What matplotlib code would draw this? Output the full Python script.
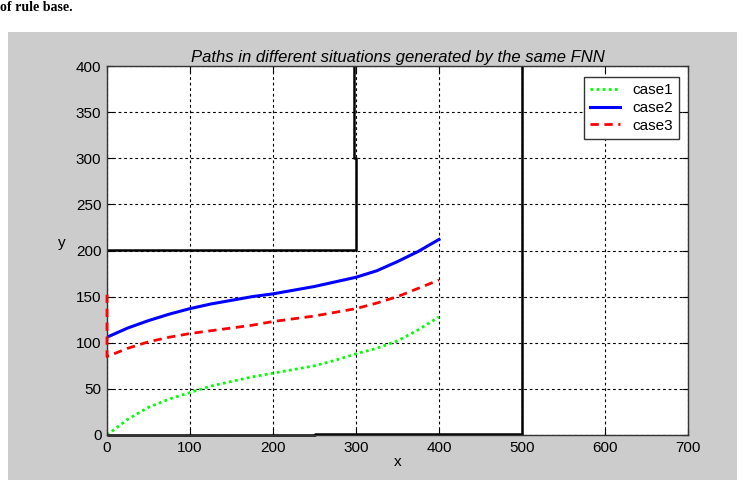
import matplotlib.pyplot as plt
from matplotlib.patches import Rectangle

plt.rcParams['font.family'] = ['Liberation Sans Narrow', 'Liberation Sans', 'DejaVu Sans']

# path samples for each case
x_pts = [0, 25, 50, 75, 100, 125, 150, 175, 200, 225, 250, 275, 300, 325, 350, 375, 400]
case1_y = [0, 17, 30, 39, 46, 53, 58, 63, 67, 71, 75, 81, 88, 94, 102, 114, 128]
case2_y = [106, 116, 124, 131, 137, 142, 146, 150, 153, 157, 161, 166, 171, 178, 188, 199, 212]
case3_x = [0] + x_pts
case3_y = [152, 85, 94, 101, 106, 110, 113, 116, 119, 123, 126, 129, 133, 137, 143, 150, 159, 168]

# obstacle / wall outlines
wall_top_x = [0, 300, 300, 298, 298]
wall_top_y = [201, 201, 300, 300, 400]
wall_right_x = [500, 500]
wall_right_y = [0, 400]
floor_x = [0, 250, 250, 500]
floor_y = [-0.5, -0.5, 0.8, 0.8]

x_ticks = [0, 100, 200, 300, 400, 500, 600, 700]
y_ticks = [0, 50, 100, 150, 200, 250, 300, 350, 400]

fig = plt.figure(figsize=(7.45, 4.8), dpi=100)
fig.patch.set_facecolor('white')
panel = Rectangle((8 / 745, 0), (737 - 8) / 745, (480 - 32) / 480,
                  transform=fig.transFigure, facecolor='#cccccc',
                  edgecolor='none', zorder=-10)
fig.add_artist(panel)
fig.text(0.0, 1.0 - 1 / 480, 'of rule base.', family='Liberation Serif',
         fontweight='bold', fontsize=10, ha='left', va='top')

ax = fig.add_axes([107 / 745, 45 / 480, (688 - 107) / 745, (414 - 45) / 480])
ax.set_facecolor('white')

ax.plot(x_pts, case1_y, color='#00ff00', linestyle=(0, (1, 1.2)), linewidth=2, label='case1')
ax.plot(x_pts, case2_y, color='#0000ff', linestyle='-', linewidth=2.2, label='case2')
ax.plot(case3_x, case3_y, color='#ff0000', linestyle=(0, (3, 2)), linewidth=2,
        label='case3', zorder=3, clip_on=False)

for wx, wy in [(wall_top_x, wall_top_y), (wall_right_x, wall_right_y), (floor_x, floor_y)]:
    ax.plot(wx, wy, color='black', linewidth=1.8, solid_capstyle='butt', clip_on=False)

ax.set_xlim(0, 700)
ax.set_ylim(0, 400)
ax.set_xticks(x_ticks)
ax.set_yticks(y_ticks)
ax.tick_params(direction='in', length=4, top=True, right=True, labelsize=11, pad=4)
ax.grid(True, color='black', linestyle=(0, (2.5, 2.5)), linewidth=0.8)
for sp in ax.spines.values():
    sp.set_linewidth(1.0)
    sp.set_color('#333333')
    sp.set_zorder(2)

ax.set_title('Paths in different situations generated by the same FNN',
             fontstyle='italic', fontsize=12, pad=3)
ax.set_xlabel('x', fontsize=11, labelpad=0)
ax.set_ylabel('y', fontsize=11, rotation=0)
ax.yaxis.set_label_coords(-0.078, 0.50)

leg = ax.legend(loc='upper right', bbox_to_anchor=(0.985, 0.97), fancybox=False,
                framealpha=1, edgecolor='#333333', fontsize=11, handlelength=2.0,
                borderpad=0.4, labelspacing=0.25, handletextpad=0.8, borderaxespad=0)
leg.get_frame().set_linewidth(1.0)

fig.savefig('out.png', dpi=100, facecolor=fig.get_facecolor())
